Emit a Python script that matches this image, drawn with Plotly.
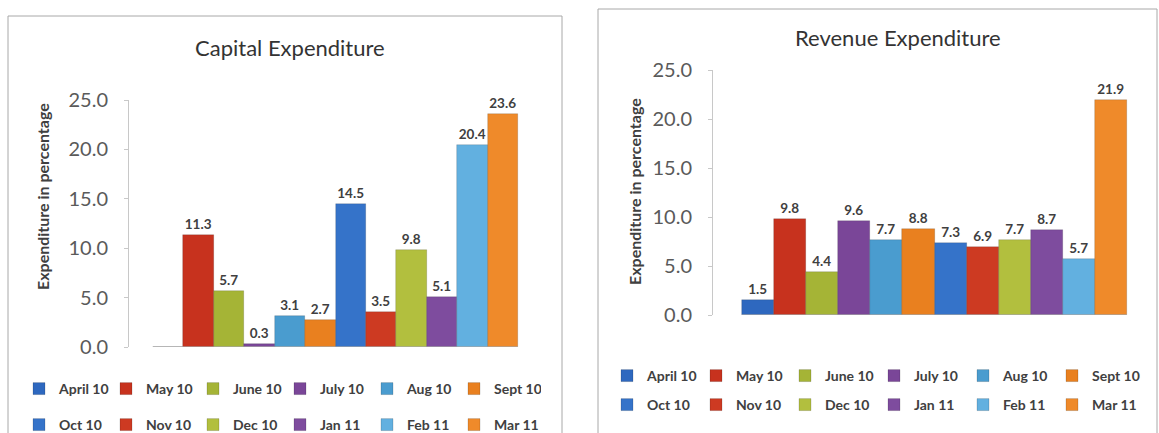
import plotly.graph_objects as go

# ---------------- data ----------------
months = ["April 10", "May 10", "June 10", "July 10", "Aug 10", "Sept 10",
          "Oct 10", "Nov 10", "Dec 10", "Jan 11", "Feb 11", "Mar 11"]
capital = [0.0, 11.3, 5.7, 0.3, 3.1, 2.7, 14.5, 3.5, 9.8, 5.1, 20.4, 23.6]
revenue = [1.5, 9.8, 4.4, 9.6, 7.7, 8.8, 7.3, 6.9, 7.7, 8.7, 5.7, 21.9]
ytick_vals = [0, 5, 10, 15, 20, 25]
ytick_text = ["0.0", "5.0", "10.0", "15.0", "20.0", "25.0"]
titles = ["Capital Expenditure", "Revenue Expenditure"]
ytitle = "Expenditure in percentage"

colors = ["#2E68BF", "#C7321E", "#A5B436", "#7A4698", "#4A9CCF", "#E9801F",
          "#3573C9", "#CD3A22", "#B2BF3E", "#7E4C9E", "#62B0E0", "#EF8A2A"]

W, H = 1159, 433
FONT = "Lato"
TXT = "#404040"

def px(x):
    return x / W

def py(y):
    return (H - y) / H

fig = go.Figure()

panels = [
    dict(vals=capital, xa="x", ya="y", legs=["legend", "legend2"]),
    dict(vals=revenue, xa="x2", ya="y2", legs=["legend3", "legend4"]),
]

for p in panels:
    for i, (m, v) in enumerate(zip(months, p["vals"])):
        fig.add_trace(go.Bar(
            x=[0], y=[v], name=m,
            marker=dict(color=colors[i], line=dict(color="rgba(0,0,0,0.25)", width=0.6)),
            text=[f"{v:.1f}" if v > 0 else ""],
            textposition="outside",
            textfont=dict(family=FONT, size=13.5, color=TXT, weight="bold"),
            cliponaxis=False,
            xaxis=p["xa"], yaxis=p["ya"],
            legend=p["legs"][0] if i < 6 else p["legs"][1],
            hovertemplate=m + ": %{y:.1f}<extra></extra>",
        ))

yaxis_common = dict(
    range=[0, 25], tickvals=ytick_vals, ticktext=ytick_text,
    showgrid=False, zeroline=False, showline=True, linecolor="#C8C8C8",
    linewidth=1, ticks="outside", ticklen=4, tickcolor="#C8C8C8",
    tickfont=dict(family=FONT, size=20, color="#5A5A5A"),
    ticklabelstandoff=12, fixedrange=True,
)

fig.update_layout(
    width=W, height=H,
    margin=dict(l=0, r=0, t=0, b=0, autoexpand=False),
    paper_bgcolor="white", plot_bgcolor="white",
    barmode="group", bargap=0, bargroupgap=0,
    showlegend=True,
    font=dict(family=FONT, color=TXT),
    xaxis=dict(domain=[px(129), px(545)], range=[-0.5658, 0.574], visible=False, fixedrange=True),
    yaxis=dict(domain=[py(347), py(100)], anchor="x", **yaxis_common),
    xaxis2=dict(domain=[px(713), px(1150)], range=[-0.5753, 0.5597], visible=False, fixedrange=True),
    yaxis2=dict(domain=[py(315), py(70)], anchor="x2", **yaxis_common),
)

leg_common = dict(orientation="h", xanchor="left", yanchor="middle",
                  entrywidth=42, entrywidthmode="pixels", bgcolor="rgba(0,0,0,0)",
                  font=dict(family=FONT, size=14, color=TXT, weight="bold"),
                  itemwidth=30)
fig.update_layout(
    legend=dict(x=px(19), y=py(389), **leg_common),
    legend2=dict(x=px(19), y=py(425), **leg_common),
    legend3=dict(x=px(607), y=py(376), **{**leg_common, "entrywidth": 44}),
    legend4=dict(x=px(607), y=py(405), **{**leg_common, "entrywidth": 44}),
)

# panel frames
fig.add_shape(type="rect", xref="paper", yref="paper", x0=px(8), x1=px(562), y0=-0.05, y1=py(16),
              line=dict(color="#A8A8A8", width=1), layer="below")
fig.add_shape(type="rect", xref="paper", yref="paper", x0=px(598), x1=px(1157), y0=-0.05, y1=py(9),
              line=dict(color="#A8A8A8", width=1), layer="below")
# category floor lines
for xa, ya in [("x", "y"), ("x2", "y2")]:
    fig.add_shape(type="line", xref=xa, yref=ya, x0=-0.5, x1=0.5, y0=0, y1=0,
                  line=dict(color="#A6A6A6", width=1.2))

# titles
fig.add_annotation(text=titles[0], x=px(290), y=py(48), xref="paper", yref="paper",
                   xanchor="center", yanchor="middle",
                   showarrow=False, font=dict(family=FONT, size=22, color="#333333"))
fig.add_annotation(text=titles[1], x=px(898), y=py(38), xref="paper", yref="paper",
                   xanchor="center", yanchor="middle",
                   showarrow=False, font=dict(family=FONT, size=22, color="#333333"))
# y-axis titles
fig.add_annotation(text=ytitle, x=px(42), y=py(197), xref="paper", yref="paper", textangle=-90,
                   xanchor="center", yanchor="middle",
                   showarrow=False, font=dict(family=FONT, size=16, color=TXT, weight="bold"))
fig.add_annotation(text=ytitle, x=px(635), y=py(192), xref="paper", yref="paper", textangle=-90,
                   xanchor="center", yanchor="middle",
                   showarrow=False, font=dict(family=FONT, size=16, color=TXT, weight="bold"))

fig.write_html("out.html")
